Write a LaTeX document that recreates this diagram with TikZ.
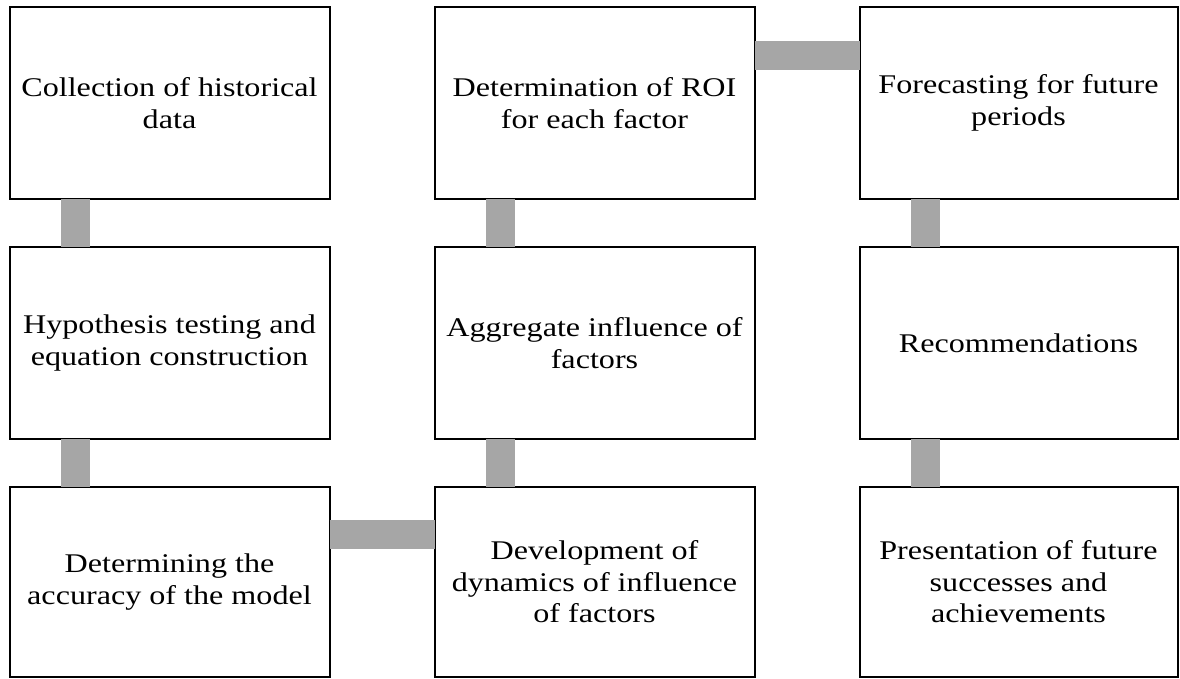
\documentclass[tikz,border=0pt]{standalone}
\usepackage{fontspec}
\setmainfont{Liberation Serif}
\newfontfamily\boxfont[FakeStretch=1.19]{Liberation Serif}
\definecolor{connc}{RGB}{166,166,166}
\tikzset{
  stepbox/.style={draw=black, line width=2pt, fill=white, minimum width=320pt, minimum height=192pt,
    inner sep=0pt, outer sep=0pt, align=center, font=\boxfont\fontsize{27}{31.5}\selectfont},
  conn/.style={draw=connc, line width=29pt}
}
\begin{document}
\begin{tikzpicture}[x=1pt,y=-1pt]
\useasboundingbox (0,0) rectangle (1180,679);
\node[stepbox] (c1r1) at (169.5,103) {Collection of historical\\data};
\node[stepbox] (c1r2) at (169.5,343) {Hypothesis testing and\\equation construction};
\node[stepbox, minimum height=190pt] (c1r3) at (169.5,582) {Determining the\\accuracy of the model};
\node[stepbox] (c2r1) at (594.5,103) {Determination of ROI\\for each factor};
\node[stepbox] (c2r2) at (594.5,343) {Aggregate influence of\\factors};
\node[stepbox, minimum height=190pt] (c2r3) at (594.5,582) {Development of\\dynamics of influence\\of factors};
\node[stepbox, minimum width=318pt] (c3r1) at (1018.5,103) {Forecasting for future\\periods};
\node[stepbox, minimum width=318pt] (c3r2) at (1018.5,343) {Recommendations};
\node[stepbox, minimum width=318pt, minimum height=190pt] (c3r3) at (1018.5,582) {Presentation of future\\successes and\\achievements};
% vertical connectors
\draw[conn] ([xshift=66pt]c1r1.south west) -- ([xshift=66pt]c1r2.north west);
\draw[conn] ([xshift=66pt]c1r2.south west) -- ([xshift=66pt]c1r3.north west);
\draw[conn] ([xshift=66pt]c2r1.south west) -- ([xshift=66pt]c2r2.north west);
\draw[conn] ([xshift=66pt]c2r2.south west) -- ([xshift=66pt]c2r3.north west);
\draw[conn] ([xshift=66pt]c3r1.south west) -- ([xshift=66pt]c3r2.north west);
\draw[conn] ([xshift=66pt]c3r2.south west) -- ([xshift=66pt]c3r3.north west);
% horizontal connectors
\draw[conn] ([yshift=-48.5pt]c2r1.north east) -- ([yshift=-48.5pt]c3r1.north west);
\draw[conn] ([yshift=-47.5pt]c1r3.north east) -- ([yshift=-47.5pt]c2r3.north west);
\end{tikzpicture}
\end{document}
